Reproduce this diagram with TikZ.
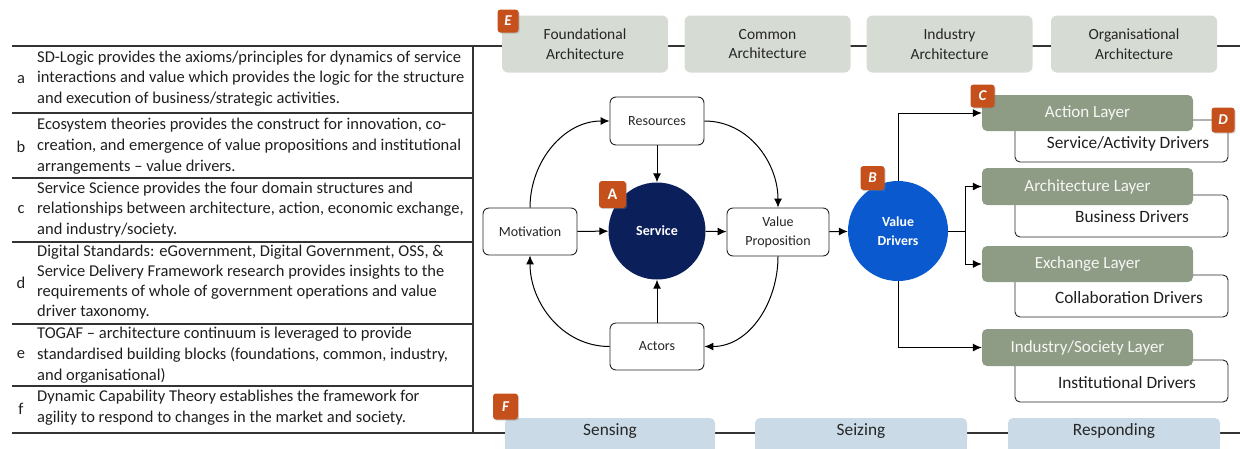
\documentclass[tikz,border=0pt]{standalone}
\usepackage{fontspec}
\setmainfont{Carlito}
\usetikzlibrary{arrows.meta,shadows}
\definecolor{badgec}{HTML}{C5501C}
\definecolor{archfill}{HTML}{D6DCD4}
\definecolor{dynfill}{HTML}{CADBE7}
\definecolor{layerfill}{HTML}{8F9C85}
\definecolor{svcfill}{HTML}{0B1F5B}
\definecolor{vdfill}{HTML}{0A59CF}
\begin{document}
\begin{tikzpicture}[x=1pt,y=-1pt,
  tbl/.style={line width=1.1pt, draw=black!80},
  rowtxt/.style={anchor=west, align=left, inner sep=0pt, font=\fontsize{16.5}{20.8}\selectfont, text=black!88},
  rowlet/.style={inner sep=0pt, font=\fontsize{16.5}{18}\selectfont, text=black!88},
  archbox/.style={fill=archfill, rounded corners=6pt, minimum width=166pt, minimum height=57pt, align=center, font=\fontsize{15.5}{19.5}\selectfont, inner sep=0pt, text=black!85},
  dynbox/.style={fill=dynfill, rounded corners=5pt, minimum width=211pt, minimum height=26pt, font=\fontsize{17.3}{18}\selectfont, inner sep=0pt, text=black!85},
  rbox/.style={draw=black!85, line width=0.9pt, fill=white, rounded corners=6pt, align=center, font=\fontsize{14}{19}\selectfont, inner sep=0pt, text=black!85},
  layerbox/.style={fill=layerfill, rounded corners=5pt, minimum width=211pt, minimum height=36pt, font=\fontsize{17}{18}\selectfont, text=white!92!layerfill, inner sep=0pt},
  drvbox/.style={draw=black!85, line width=0.9pt, fill=white, rounded corners=5pt, minimum width=213pt, minimum height=42pt, inner sep=0pt},
  drvtxt/.style={font=\fontsize{17.3}{18}\selectfont, inner sep=0pt, text=black!88},
  arr/.style={line width=1pt, draw=black, -{Latex[length=9pt,width=8pt]}},
  conn/.style={line width=1pt, draw=black},
  badge/.style={fill=badgec, rounded corners=3pt, minimum size=24pt, inner sep=0pt, text=white, font=\bfseries\itshape\fontsize{15}{15}\selectfont, drop shadow={shadow xshift=1.2pt, shadow yshift=-1.2pt, opacity=0.35}}
]
\useasboundingbox (0,0) rectangle (1240,448);
\clip (0,0) rectangle (1240,448);
% table and bands
\draw[tbl] (12,46) -- (1240,46);
\draw[tbl] (12,433) -- (1240,433);
\foreach \yy in {113,178,242,324,386} \draw[tbl] (12,\yy) -- (473,\yy);
\draw[tbl] (473,46) -- (473,433);
% rows
\node[rowlet] (la) at (21,80) {a};
\node[rowtxt] (ta) at (37,78.5) {SD-Logic provides the axioms/principles for dynamics of service\\interactions and value which provides the logic for the structure\\and execution of business/strategic activities.};
\node[rowlet] (lb) at (21,147) {b};
\node[rowtxt] (tb) at (37,146) {Ecosystem theories provides the construct for innovation, co-\\creation, and emergence of value propositions and institutional\\arrangements -- value drivers.};
\node[rowlet] (lc) at (21,210) {c};
\node[rowtxt] (tc) at (37,209.5) {Service Science provides the four domain structures and\\relationships between architecture, action, economic exchange,\\and industry/society.};
\node[rowlet] (ld) at (21,283) {d};
\node[rowtxt, font=\fontsize{16.5}{20}\selectfont] (td) at (37,282.5) {Digital Standards: eGovernment, Digital Government, OSS, \&\\Service Delivery Framework research provides insights to the\\requirements of whole of government operations and value\\driver taxonomy.};
\node[rowlet] (le) at (21,355) {e};
\node[rowtxt] (te) at (37,355) {TOGAF -- architecture continuum is leveraged to provide\\standardised building blocks (foundations, common, industry,\\and organisational)};
\node[rowlet] (lf) at (21,409) {f};
\node[rowtxt] (tf) at (37,408) {Dynamic Capability Theory establishes the framework for\\agility to respond to changes in the market and society.};
% architecture band
\node[archbox] (fa) at (585,44) {Foundational\\Architecture};
\node[archbox] (ca) at (767.5,44) {Common\\Architecture};
\node[archbox] (ia) at (949.5,44) {Industry\\Architecture};
\node[archbox] (oa) at (1134,44) {Organisational\\Architecture};
% dynamic band
\fill[dynfill] (505,438) rectangle (715,452);
\fill[dynfill] (755,438) rectangle (967,452);
\fill[dynfill] (1008,438) rectangle (1220,452);
\node[dynbox, minimum width=210pt] (sens) at (610,431) {Sensing};
\node[dynbox, minimum width=212pt] (seiz) at (861,431) {Seizing};
\node[dynbox, minimum width=212pt] (resp) at (1114,431) {Responding};
% service cycle
\node[rbox, minimum width=94pt, minimum height=48pt] (res) at (657,121) {Resources};
\node[rbox, minimum width=94pt, minimum height=47pt] (mot) at (530,231.5) {Motivation};
\node[rbox, minimum width=102pt, minimum height=48pt] (vp) at (778,232) {Value\\Proposition};
\node[rbox, minimum width=94pt, minimum height=47pt] (act) at (657,346.5) {Actors};
\node[circle, fill=svcfill, minimum size=97pt, inner sep=0pt, text=white, font=\bfseries\fontsize{14}{16}\selectfont] (svc) at (657,231) {Service};
\node[circle, fill=vdfill, minimum size=100pt, inner sep=0pt, text=white, align=center, font=\bfseries\fontsize{13.8}{19}\selectfont] (vd) at (898,231) {Value\\Drivers};
\draw[arr] (res) -- (svc);
\draw[arr] (act) -- (svc);
\draw[arr] (mot) -- (svc);
\draw[arr] (svc) -- (vp);
\draw[arr] (vp) -- (vd);
\draw[arr] (mot.north) to[out=90,in=180] (res.west);
\draw[arr] (res.east) to[out=0,in=90] (vp.north);
\draw[arr] (vp.south) to[out=-90,in=0] (act.east);
\draw[arr] (act.west) to[out=180,in=-90] (mot.south);
% layers
\node[drvbox] (d1) at (1121.5,141) {};
\node[drvbox] (d2) at (1121.5,216) {};
\node[drvbox] (d3) at (1121.5,296) {};
\node[drvbox] (d4) at (1121.5,381) {};
\node[drvtxt] (t1) at (1128,144) {Service/Activity Drivers};
\node[drvtxt] (t2) at (1132,217) {Business Drivers};
\node[drvtxt] (t3) at (1129,298) {Collaboration Drivers};
\node[drvtxt] (t4) at (1127,383) {Institutional Drivers};
\node[layerbox] (l1) at (1087.5,113) {Action Layer};
\node[layerbox, minimum height=37pt] (l2) at (1087.5,186.5) {Architecture Layer};
\node[layerbox] (l3) at (1087.5,264) {Exchange Layer};
\node[layerbox, minimum height=37pt] (l4) at (1087.5,347.5) {Industry/Society Layer};
\coordinate (jr) at (965,231);
\draw[arr] (vd.north) |- (l1.west);
\draw[conn] (vd.east) -- (jr);
\draw[arr] (jr) |- (l2.west);
\draw[arr] (jr) |- (l3.west);
\draw[arr] (vd.south) |- (l4.west);
% badges
\node[badge, minimum size=27pt, font=\bfseries\fontsize{16}{16}\selectfont] (bA) at (612.5,194.5) {A};
\node[badge] (bB) at (872.5,178) {B};
\node[badge, minimum height=23pt] (bC) at (982.5,96) {C};
\node[badge, minimum width=23pt, minimum height=25pt] (bD) at (1223,120) {D};
\node[badge, minimum width=21pt, minimum height=23pt] (bE) at (508,21) {E};
\node[badge, minimum width=25pt, minimum height=26pt] (bF) at (505.5,406.5) {F};
\end{tikzpicture}
\end{document}
